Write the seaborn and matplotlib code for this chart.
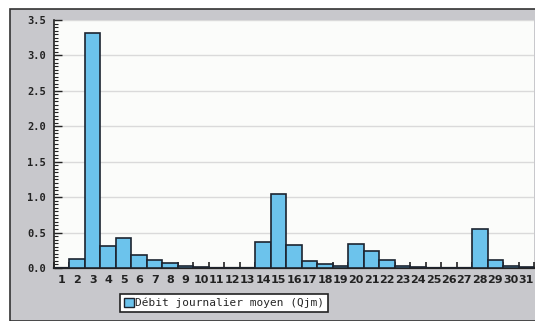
import matplotlib
matplotlib.use('Agg')
import matplotlib.pyplot as plt
from matplotlib.patches import Rectangle, Patch
from matplotlib.ticker import MultipleLocator, FixedLocator
import seaborn as sns
import pandas as pd

# daily mean flow (m3/s), days 1..31
days = list(range(1, 32))
debit = [0.0, 0.12, 3.31, 0.31, 0.43, 0.18, 0.11, 0.065, 0.03, 0.01,
         0.005, 0.005, 0.0, 0.36, 1.04, 0.32, 0.10, 0.05, 0.025, 0.34,
         0.24, 0.11, 0.03, 0.01, 0.0, 0.0, 0.0, 0.55, 0.11, 0.03, 0.01]
serie = 'Débit journalier moyen (Qjm)'

df = pd.DataFrame({'jour': [str(d) for d in days], 'debit': debit})

sns.set_style('white')
plt.rcParams['font.family'] = ['DejaVu Sans Mono', 'DejaVu Sans']

W, H = 535, 321
fig = plt.figure(figsize=(W / 100, H / 100), dpi=100)
fig.patch.set_facecolor('white')

# grey frame behind the chart
fig.patches.append(Rectangle((10 / W, 0), 1, 1 - 9 / H, transform=fig.transFigure,
                             facecolor='#c8c8cc', edgecolor='#333333', lw=1.2, zorder=-5))

ax = fig.add_axes([54 / W, 53 / H, 480 / W, 248 / H])
ax.set_zorder(2)
ax.set_facecolor('#fbfcfa')

sns.barplot(data=df, x='jour', y='debit', ax=ax, color='#6cc3ec', width=1.0,
            edgecolor='#1c2430', linewidth=1.2, saturation=1, zorder=3)

ax.set_xlim(-0.5, 30.5)
ax.set_ylim(0, 3.5)
ax.set_xlabel('')
ax.set_ylabel('')

ax.yaxis.set_major_locator(MultipleLocator(0.5))
ax.yaxis.set_minor_locator(MultipleLocator(0.05))
ax.set_yticks(ax.get_yticks())
ax.set_yticklabels([f'{v:.1f}' for v in ax.get_yticks()], fontweight='bold')
ax.set_ylim(0, 3.5)
ax.grid(axis='y', color='#dadada', lw=1.0, zorder=0)

ax.tick_params(axis='y', which='major', direction='in', length=6, width=1,
               labelsize=7.5, colors='#222222', left=True, pad=6)
ax.tick_params(axis='y', which='minor', direction='in', length=3, width=0.8,
               colors='#222222', left=True)
ax.tick_params(axis='x', which='major', length=0, labelsize=8, pad=5, colors='#222222')
ax.set_xticklabels([str(d) for d in days], family='DejaVu Sans', fontweight='bold')
ax.xaxis.set_minor_locator(FixedLocator([i - 0.5 for i in range(32)]))
ax.tick_params(axis='x', which='minor', direction='in', length=4, width=1.2,
               colors='#222222', bottom=True)

for s in ['top', 'right']:
    ax.spines[s].set_visible(False)
ax.spines['left'].set_color('#222222')
ax.spines['bottom'].set_color('#222222')
ax.spines['left'].set_linewidth(1.2)
ax.spines['bottom'].set_linewidth(1.6)

handle = Patch(facecolor='#6cc3ec', edgecolor='#1c2430', lw=1)
leg = fig.legend([handle], [serie], loc='center', bbox_to_anchor=(224 / W, 1 - 303 / H),
                 fancybox=False, framealpha=1, edgecolor='#222222', fontsize=8,
                 handlelength=0.9, handleheight=0.9, handletextpad=0.1,
                 borderpad=0.35, borderaxespad=0)
leg.get_frame().set_linewidth(1.2)

fig.savefig('out.png', dpi=100)
